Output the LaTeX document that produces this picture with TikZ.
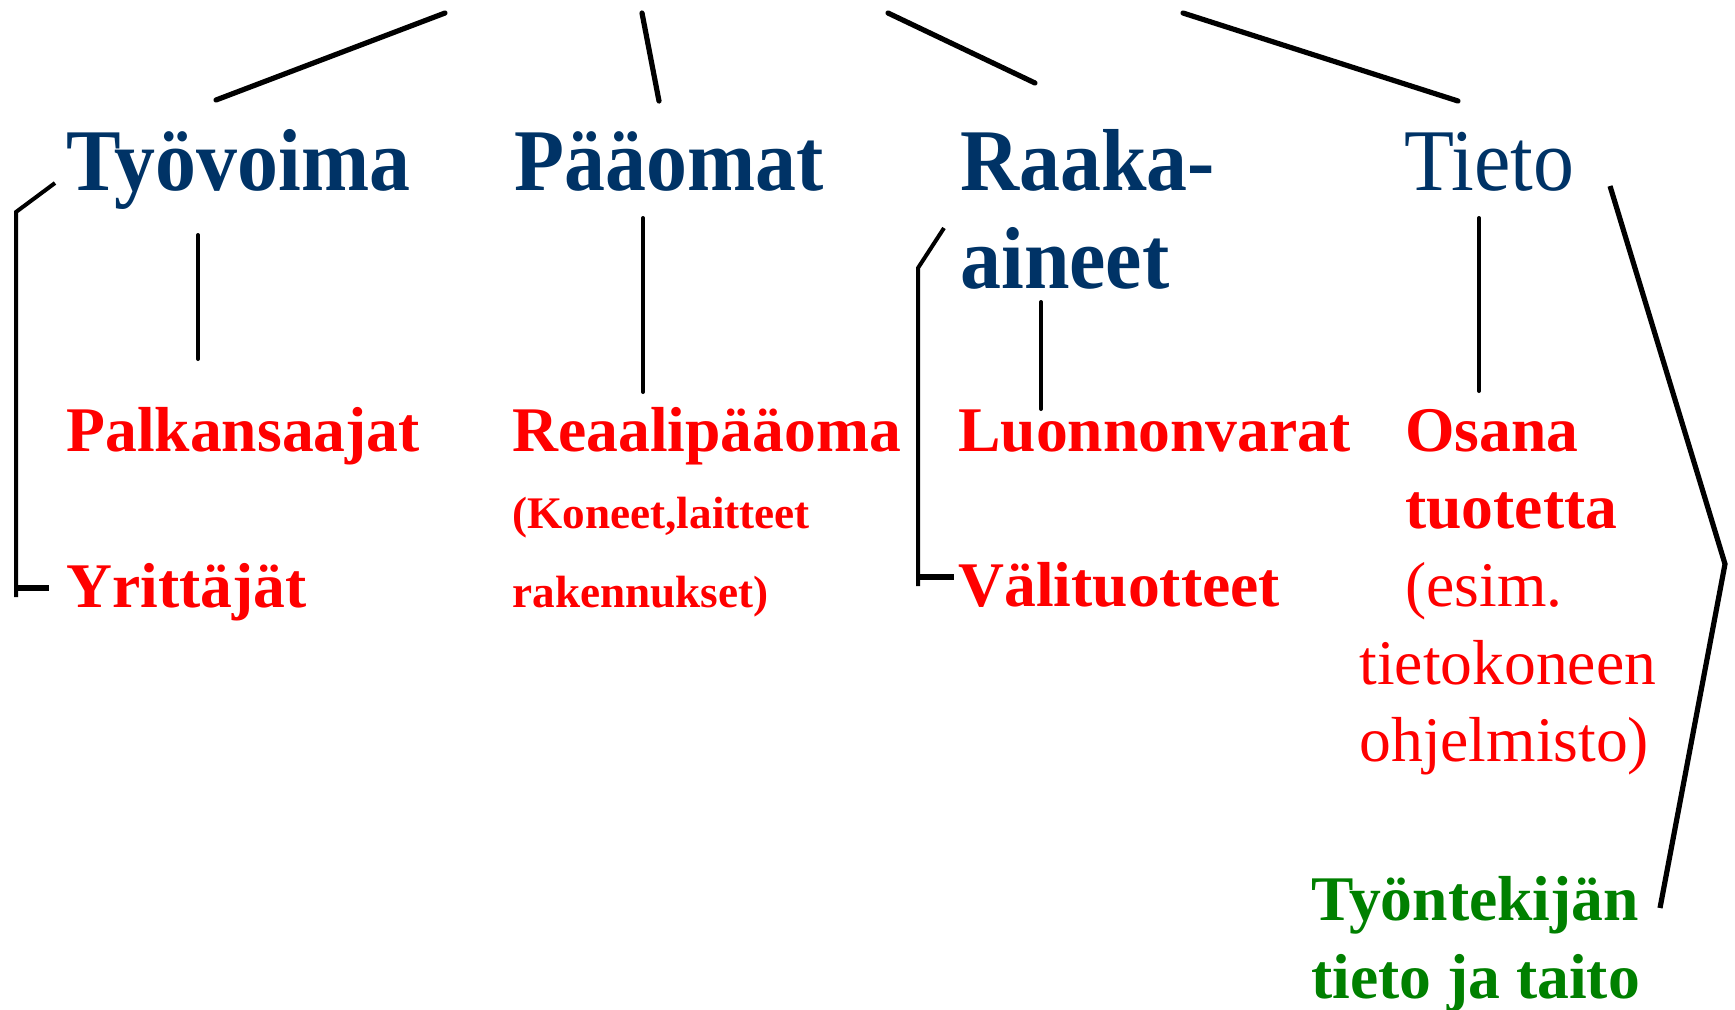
\documentclass[tikz,border=0pt]{standalone}
\usepackage{fontspec}
\setmainfont{Liberation Serif}
\newfontfamily\headfont[FakeStretch=0.93]{Liberation Serif}
\usepackage{xcolor}
\usepackage{tikz}
\usetikzlibrary{positioning,calc}
\definecolor{headblue}{RGB}{0,51,102}
\definecolor{itemred}{RGB}{255,0,0}
\definecolor{skillgreen}{RGB}{0,128,0}
\tikzset{head/.style={anchor=base west, inner sep=0pt, text=headblue, font=\headfont\bfseries\fontsize{44}{50}\selectfont},
	plainhead/.style={head, font=\headfont\fontsize{44}{50}\selectfont},
	item/.style={anchor=base west, inner sep=0pt, text=itemred, font=\bfseries\fontsize{31.8}{38}\selectfont},
	plainitem/.style={item, font=\fontsize{31.8}{38}\selectfont},
	smallitem/.style={item, font=\bfseries\fontsize{22.6}{26}\selectfont},
	skill/.style={item, text=skillgreen},
	link/.style={line width=2pt, line cap=round},
	toplink/.style={line width=2.6pt, line cap=round}}

\begin{document}
\begin{tikzpicture}[x=0.5pt,y=-0.5pt]
	\useasboundingbox (0,0) rectangle (1735,1009);
	% tuotannontekijat
	\node [head] (tyo) at (66,190) {Työvoima};
	\node [head] (paa) at (514,190) {Pääomat};
	\node [head] (raaka) at (960,190) {Raaka-};
	\node [head] (aineet) at ([yshift=-49pt]raaka.base west) {aineet};
	\node [plainhead] (tieto) at (1404,190) {Tieto};
	% alakohdat
	\node [item] (palk) at (66,451) {Palkansaajat};
	\node [item] (yrit) at (66,607) {Yrittäjät};
	\node [item] (reaali) at (512,451) {Reaalipääoma};
	\node [smallitem] (koneet) at (512,528) {(Koneet,laitteet};
	\node [smallitem] (raken) at (512,607) {rakennukset)};
	\node [item] (luonto) at (958,451) {Luonnonvarat};
	\node [item] (vali) at (958,606) {Välituotteet};
	\node [item] (osana) at (1405,451) {Osana};
	\node [item] (tuote) at ([yshift=-38.9pt]osana.base west) {tuotetta};
	\node [plainitem] (esim) at ([yshift=-38.9pt]tuote.base west) {(esim.};
	\node [plainitem] (tkone) at (1359,684) {tietokoneen};
	\node [plainitem] (ohjel) at ([yshift=-38.7pt]tkone.base west) {ohjelmisto)};
	\node [skill] (tyont) at (1311,920) {Työntekijän};
	\node [skill] (taito) at ([yshift=-39pt]tyont.base west) {tieto ja taito};
	% ylaviivat
	\coordinate (tyoA) at (216,100); \coordinate (tyoB) at (445,13);
	\coordinate (paaA) at (659,101); \coordinate (paaB) at (642,13);
	\coordinate (raakaA) at (1035,83); \coordinate (raakaB) at (888,13);
	\coordinate (tietoA) at (1458,101); \coordinate (tietoB) at (1183,13);
	\draw [toplink] (tyoA) -- (tyoB);
	\draw [toplink] (paaA) -- (paaB);
	\draw [toplink] (raakaA) -- (raakaB);
	\draw [toplink] (tietoA) -- (tietoB);
	% pystyviivat
	\coordinate (tyoC) at (198,235); \coordinate (tyoD) at (198,359);
	\coordinate (paaC) at (643,218); \coordinate (paaD) at (643,392);
	\coordinate (aineetC) at (1041,302); \coordinate (aineetD) at (1041,409);
	\coordinate (tietoC) at (1479,218); \coordinate (tietoD) at (1479,391);
	\draw [link] (tyoC) -- (tyoD);
	\draw [link] (paaC) -- (paaD);
	\draw [link] (aineetC) -- (aineetD);
	\draw [link] (tietoC) -- (tietoD);
	% sulut
	\coordinate (yritA) at (55,183); \coordinate (yritB) at (16,212); \coordinate (yritC) at (16,597);
	\coordinate (yritS) at (16,588); \coordinate (yritT) at (49,588);
	\draw [link, line cap=butt] (yritA) -- (yritB) -- (yritC);
	\draw [line width=3.2pt] (yritS) -- (yritT);
	\coordinate (valiA) at (944,228); \coordinate (valiB) at (918,268); \coordinate (valiC) at (918,586);
	\coordinate (valiS) at (918,577); \coordinate (valiT) at (954,577);
	\draw [link, line cap=butt] (valiA) -- (valiB) -- (valiC);
	\draw [line width=3.2pt] (valiS) -- (valiT);
	\coordinate (taitoA) at (1610,186); \coordinate (taitoB) at (1725,564); \coordinate (taitoC) at (1660,908);
	\draw [toplink, line cap=butt] (taitoA) -- (taitoB) -- (taitoC);
\end{tikzpicture}
\end{document}
